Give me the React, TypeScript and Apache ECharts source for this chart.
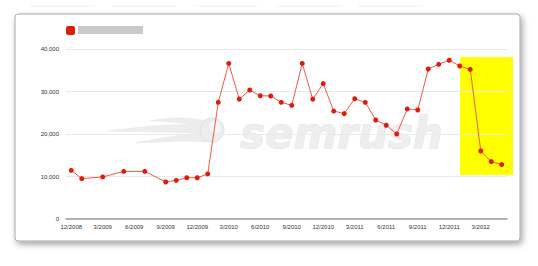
import React, { useEffect, useRef } from "react";
import * as echarts from "echarts";

const months = [
  "12/2008", "1/2009", "2/2009", "3/2009", "4/2009", "5/2009", "6/2009", "7/2009", "8/2009", "9/2009", "10/2009", "11/2009",
  "12/2009", "1/2010", "2/2010", "3/2010", "4/2010", "5/2010", "6/2010", "7/2010", "8/2010", "9/2010", "10/2010", "11/2010",
  "12/2010", "1/2011", "2/2011", "3/2011", "4/2011", "5/2011", "6/2011", "7/2011", "8/2011", "9/2011", "10/2011", "11/2011",
  "12/2011", "1/2012", "2/2012", "3/2012", "4/2012", "5/2012",
];

const values: (number | null)[] = [
  11450, 9500, null, 9900, null, 11200, null, 11200, null, 8700, 9100, 9700,
  9700, 10600, 27450, 36600, 28200, 30350, 29000, 28950, 27450, 26750, 36600, 28200,
  31850, 25400, 24800, 28300, 27450, 23300, 22050, 20000, 25900, 25650, 35300, 36400,
  37350, 36000, 35200, 16000, 13500, 12800,
];

const seriesName = "Traffic";

const flamePath =
  "M100 5 C82 1 62 1 44 5 C62 5 76 7 90 9 C68 8 40 10 2 15 C40 16 70 16 92 17 C74 19 54 22 30 27 C58 26 80 24 101 26 Z";
echarts.graphic.registerShape("flame", echarts.graphic.extendPath(flamePath, {}) as any);

export default function App() {
  const ref = useRef<HTMLDivElement>(null);
  useEffect(() => {
    if (!ref.current) return;
    const chart = echarts.init(ref.current, undefined, { renderer: "svg" });
    const font = "'Liberation Sans', Arial, sans-serif";
    const tabs = [30, 112, 193, 277, 358].map((x) => ({
      type: "line",
      z: -20,
      shape: { x1: x, y1: 6, x2: x + 64, y2: 6 },
      style: { stroke: "#f0f0f0", lineWidth: 1 },
    }));
    chart.setOption({
      animation: false,
      backgroundColor: "#ffffff",
      grid: { left: 66, right: 31, top: 49, bottom: 47 },
      legend: {
        show: true,
        left: 66,
        top: 26,
        padding: 0,
        itemWidth: 9,
        itemHeight: 9,
        icon: "roundRect",
        formatter: () => "",
        textStyle: { fontSize: 1, lineHeight: 1 },
        data: [seriesName],
      },
      xAxis: {
        type: "category",
        data: months,
        boundaryGap: true,
        axisLine: { lineStyle: { color: "#9a9a9a", width: 1.5 } },
        axisTick: { show: false },
        axisLabel: { interval: 2, fontSize: 6, color: "#333", fontFamily: font, margin: 5 },
        splitLine: { show: false },
      },
      yAxis: {
        type: "value",
        min: 0,
        max: 40000,
        interval: 10000,
        axisLine: { show: false },
        axisTick: { show: false },
        axisLabel: {
          fontSize: 6,
          color: "#333",
          fontFamily: font,
          margin: 7,
          formatter: (v: number) => v.toLocaleString("en-US"),
        },
        splitLine: { lineStyle: { color: "#e9e9e9", width: 1 } },
      },
      graphic: [
        ...tabs,
        {
          type: "rect",
          z: -10,
          shape: { x: 15, y: 14, width: 505, height: 227, r: 3 },
          style: {
            fill: "#ffffff",
            stroke: "#a8a8a8",
            lineWidth: 1,
            shadowBlur: 6,
            shadowColor: "rgba(0,0,0,0.35)",
            shadowOffsetX: 2,
            shadowOffsetY: 3,
          },
        },
        {
          type: "rect",
          z: -5,
          shape: { x: 460, y: 57, width: 53, height: 118 },
          style: { fill: "#ffff00" },
        },
        {
          type: "flame",
          z: -4,
          x: 106,
          y: 116,
          scaleX: 1,
          scaleY: 1,
          style: { fill: "#ededed", stroke: "#e4e4e4", lineWidth: 0.5 },
        },
        {
          type: "circle",
          z: -4,
          shape: { cx: 212, cy: 130, r: 12 },
          style: { fill: "#ededed", stroke: "#e0e0e0", lineWidth: 1 },
        },
        {
          type: "circle",
          z: -4,
          shape: { cx: 215, cy: 127, r: 6 },
          style: { fill: "#f7f7f7" },
        },
        {
          type: "text",
          z: -4,
          x: 240,
          y: 112,
          style: {
            text: "semrush",
            fontSize: 42,
            fontWeight: "bold",
            fontStyle: "italic",
            fontFamily: "'DejaVu Sans', sans-serif",
            fill: "#eeeeee",
            stroke: "#e0e0e0",
            lineWidth: 0.8,
          },
        },
        {
          type: "rect",
          z: 10,
          shape: { x: 78, y: 26, width: 65, height: 8 },
          style: { fill: "#cacaca" },
        },
      ],
      series: [
        {
          name: seriesName,
          type: "line",
          data: values,
          connectNulls: true,
          symbol: "circle",
          symbolSize: 5,
          itemStyle: { color: "#e01b0b" },
          lineStyle: { color: "#f05a48", width: 1 },
        },
      ],
    });
    return () => chart.dispose();
  }, []);
  return <div ref={ref} style={{ position: "fixed", left: 0, top: 0, width: 538, height: 266 }} />;
}
